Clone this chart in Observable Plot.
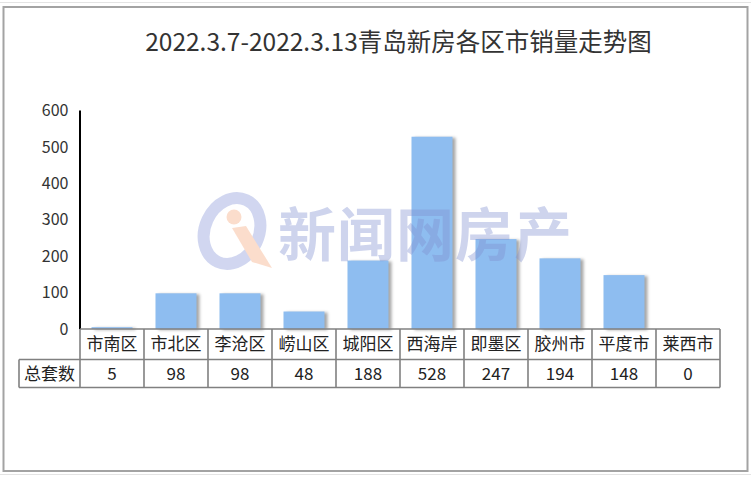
<!DOCTYPE html>
<html>
<head>
<meta charset="utf-8">
<script src="https://cdn.jsdelivr.net/npm/d3@7"></script>
<script src="https://cdn.jsdelivr.net/npm/@observablehq/plot@0.6"></script>
<style>
  html, body { margin: 0; padding: 0; background: #fff; }
  #wrap { position: relative; width: 751px; height: 477px; overflow: hidden; }
  #title { position: absolute; left: 0; width: 797px; top: 23px; text-align: center;
    font-family: "Noto Sans CJK SC", "Noto Sans", sans-serif; font-size: 24.5px; line-height: 36px; color: #333; white-space: nowrap; }
  #chart { position: absolute; left: 0; top: 0; }
</style>
</head>
<body>
<div id="wrap">
  <div id="chart"></div>
  <div id="title"></div>
</div>
<script>
const categories = ["市南区","市北区","李沧区","崂山区","城阳区","西海岸","即墨区","胶州市","平度市","莱西市"];
const sales = [5, 98, 98, 48, 188, 528, 247, 194, 148, 0];
const rowLabel = "总套数";
const titleText = "2022.3.7-2022.3.13青岛新房各区市销量走势图";
const watermarkText = "新闻网房产";

const data = categories.map((name, i) => ({name, value: sales[i]}));

document.getElementById("title").textContent = titleText;

const FONT = "'Noto Sans CJK SC', 'Noto Sans', sans-serif";

// data table drawn below the plot using the x band scale
function tableMark(index, scales, values, dimensions) {
  const x = scales.x, y = scales.y;
  const bw = x.bandwidth();
  const top = y(0);
  const rowH1 = 30.5, rowH2 = 28;
  const left0 = dimensions.marginLeft;
  const firstColLeft = 19;
  const right = x(categories[categories.length - 1]) + bw;
  const g = d3.create("svg:g");
  const stroke = "#808080";
  // y-axis line
  g.append("line").attr("x1", left0).attr("x2", left0)
    .attr("y1", y(600)).attr("y2", top).attr("stroke", "#000").attr("stroke-width", 2);
  // horizontal lines
  g.append("line").attr("x1", left0).attr("x2", right).attr("y1", top).attr("y2", top)
    .attr("stroke", stroke).attr("stroke-width", 1.6);
  g.append("line").attr("x1", firstColLeft).attr("x2", right).attr("y1", top + rowH1).attr("y2", top + rowH1)
    .attr("stroke", stroke).attr("stroke-width", 1.6);
  g.append("line").attr("x1", firstColLeft).attr("x2", right).attr("y1", top + rowH1 + rowH2).attr("y2", top + rowH1 + rowH2)
    .attr("stroke", stroke).attr("stroke-width", 1.6);
  // vertical lines
  g.append("line").attr("x1", firstColLeft).attr("x2", firstColLeft).attr("y1", top + rowH1).attr("y2", top + rowH1 + rowH2)
    .attr("stroke", stroke).attr("stroke-width", 1.6);
  categories.forEach((c) => {
    const xr = x(c) + bw;
    g.append("line").attr("x1", xr).attr("x2", xr).attr("y1", top).attr("y2", top + rowH1 + rowH2)
      .attr("stroke", stroke).attr("stroke-width", 1.6);
  });
  g.append("line").attr("x1", left0).attr("x2", left0).attr("y1", top).attr("y2", top + rowH1 + rowH2)
    .attr("stroke", stroke).attr("stroke-width", 1.6);
  // texts
  const t = g.append("g").attr("font-family", FONT).attr("font-size", 17).attr("fill", "#222")
    .attr("text-anchor", "middle");
  categories.forEach((c, i) => {
    const cx = x(c) + bw / 2;
    t.append("text").attr("x", cx).attr("y", top + rowH1 / 2).attr("dy", "0.36em").text(c);
    t.append("text").attr("x", cx).attr("y", top + rowH1 + rowH2 / 2).attr("dy", "0.36em").text(sales[i]);
  });
  t.append("text").attr("x", (firstColLeft + left0) / 2).attr("y", top + rowH1 + rowH2 / 2)
    .attr("dy", "0.36em").text(rowLabel);
  return g.node();
}

const chart = Plot.plot({
  width: 751,
  height: 477,
  marginLeft: 80,
  marginRight: 31,
  marginTop: 110.5,
  marginBottom: 148,
  style: {fontFamily: FONT, fontSize: "16px", color: "#333", background: "transparent"},
  x: {domain: categories, padding: 0, axis: null},
  y: {domain: [0, 600], ticks: 6, tickSize: 0, tickPadding: 12, label: null},
  marks: [
    Plot.barY(data, {x: "name", y: "value", fill: "#8EBDF0", insetLeft: 11.5, insetRight: 11.5}),
    tableMark
  ]
});

const svg = d3.select(chart);
svg.selectAll('g[aria-label="bar"] rect').style("filter", "drop-shadow(3px 1px 1.5px rgba(0,0,0,0.35))");

// decorations: outer frame, watermark
svg.insert("rect", ":first-child").attr("x", 0).attr("y", 0).attr("width", 751).attr("height", 477).attr("fill", "#fff");
svg.append("line").attr("x1", 0).attr("x2", 751).attr("y1", 2.5).attr("y2", 2.5).attr("stroke", "#e4e4e4");
svg.append("line").attr("x1", 0).attr("x2", 751).attr("y1", 474.5).attr("y2", 474.5).attr("stroke", "#e4e4e4");
svg.append("rect").attr("x", 3.5).attr("y", 7).attr("width", 744).attr("height", 464)
  .attr("fill", "none").attr("stroke", "#a3a3a3").attr("stroke-width", 2);

const wm = svg.append("g").attr("opacity", 0.38).attr("pointer-events", "none");
wm.append("ellipse").attr("cx", 232).attr("cy", 231).attr("rx", 27).attr("ry", 34)
  .attr("transform", "rotate(25 232 231)")
  .attr("fill", "none").attr("stroke", "#8796d8").attr("stroke-width", 12);
wm.append("circle").attr("cx", 234).attr("cy", 217).attr("r", 7.5).attr("fill", "#f5a77c");
wm.append("path").attr("d", "M232,228 L246,226 L272,268 L252,262 Z").attr("fill", "#f5a77c");
wm.append("text").attr("x", 278).attr("y", 256).attr("text-anchor", "start")
  .attr("font-family", FONT).attr("font-size", 58)
  .attr("font-weight", 700).attr("fill", "#8090d0").attr("letter-spacing", 1).text(watermarkText);

document.getElementById("chart").appendChild(chart);
</script>
</body>
</html>
